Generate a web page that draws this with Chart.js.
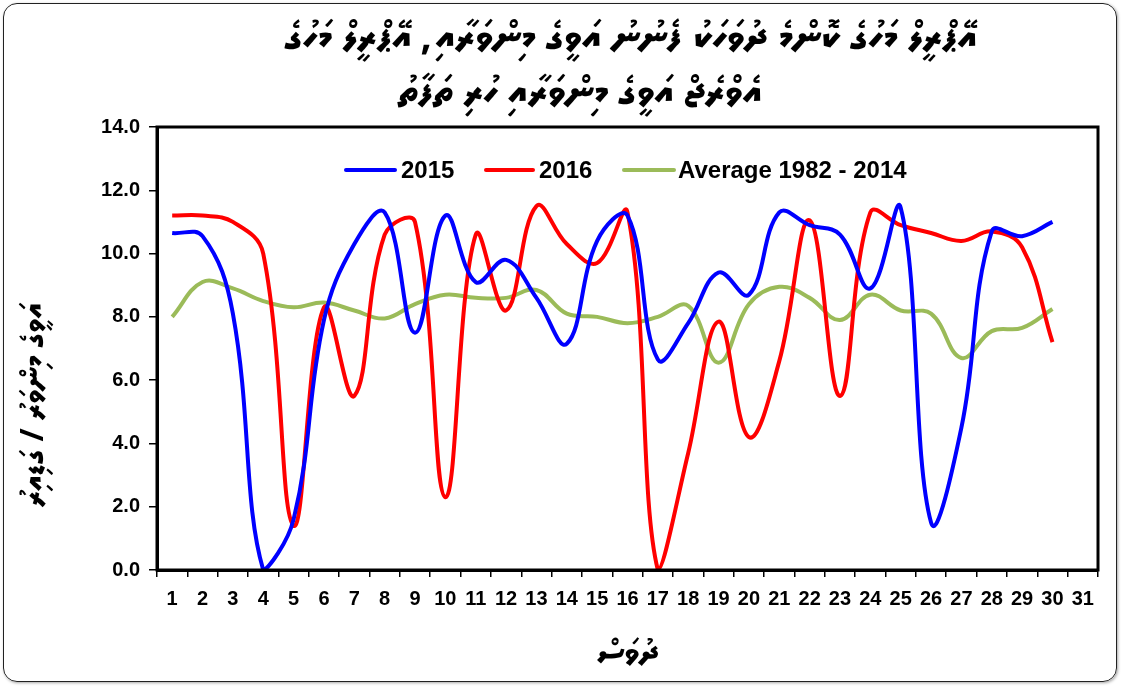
<!DOCTYPE html>
<html>
<head>
<meta charset="utf-8">
<script src="https://cdn.jsdelivr.net/npm/chart.js@4.4.1/dist/chart.umd.min.js"></script>
<style>
  html, body { margin: 0; padding: 0; background: #fff; }
  #wrap { position: relative; width: 1130px; height: 686px; }
  #frame {
    position: absolute; left: 3px; top: 3px; width: 1112px; height: 677px;
    border: 1.5px solid #222; border-radius: 14px;
    box-shadow: 1px 1px 3px rgba(0,0,0,.35); pointer-events: none;
  }
  canvas { position: absolute; left: 0; top: 0; }
</style>
</head>
<body>
<div id="wrap">
  <canvas id="chart" width="1130" height="686"></canvas>
  <div id="frame"></div>
</div>
<script>
// day labels on the x axis
const days = ['1','2','3','4','5','6','7','8','9','10','11','12','13','14','15','16',
  '17','18','19','20','21','22','23','24','25','26','27','28','29','30','31']

// daily values
const series2015 = [10.65, 10.55, 8.1, 0.0, 1.6, 7.9, 10.3, 11.3, 7.5, 11.2, 9.1, 9.8, 8.6, 7.15, 10.4,
  11.2, 6.65, 7.8, 9.4, 8.7, 11.3, 10.9, 10.6, 8.9, 11.45, 1.5, 4.5, 10.7, 10.55, 11.0]
const series2016 = [11.2, 11.2, 11.0, 10.0, 1.4, 8.3, 5.5, 10.6, 11.0, 2.3, 10.6, 8.2, 11.5, 10.3, 9.7,
  11.3, 0.0, 3.7, 7.85, 4.2, 6.6, 11.05, 5.5, 11.3, 10.9, 10.65, 10.4, 10.7, 10.2, 7.2]
const seriesAverage = [8.0, 9.1, 8.9, 8.5, 8.3, 8.45, 8.2, 7.95, 8.4, 8.7, 8.6, 8.6, 8.85, 8.1, 8.0,
  7.8, 8.0, 8.35, 6.55, 8.4, 8.95, 8.6, 7.9, 8.7, 8.2, 8.1, 6.7, 7.55, 7.65, 8.25]

const seriesNames = ['2015', '2016', 'Average 1982 - 2014']
const seriesColors = ['#0000ff', '#ff0000', '#9bbb59']

const titleLines = [
  'އޭޕްރީލް މަހުގެ ކޮންމެ ދުވަހަކު ފެނުނު އަވީގެ މިންވަރާއި، އޭޕްރީލް މަހުގެ',
  'އެވްރެޖް އަވީގެ މިންވަރާއި ހުރި ތަފާތު'
]
const yTitle = 'އަވީގެ މިންވަރު / ގަޑިއިރު'
const xTitle = 'ދުވަސް'

const latin = "'Liberation Sans', Arial, sans-serif"
const thaana = "'MV Boli', Faruma, 'Noto Sans Thaana', 'DejaVu Sans', sans-serif"

// frame, legend inside the plot, titles
const extras = {
  id: 'extras',
  afterDraw(chart) {
    const ctx = chart.ctx
    const a = chart.chartArea
    ctx.save()
    ctx.strokeStyle = '#000'
    ctx.lineWidth = 3
    ctx.strokeRect(a.left, a.top, a.right - a.left, a.bottom - a.top)

    // legend
    const items = [
      { x1: 346, x2: 395, tx: 401 },
      { x1: 486, x2: 533, tx: 539 },
      { x1: 624, x2: 674, tx: 678 }
    ]
    const ly = 170
    ctx.font = 'bold 24px ' + latin
    ctx.textBaseline = 'middle'
    ctx.textAlign = 'left'
    chart.data.datasets.forEach((ds, i) => {
      const it = items[i]
      ctx.strokeStyle = ds.borderColor
      ctx.lineWidth = 4
      ctx.lineCap = 'round'
      ctx.beginPath()
      ctx.moveTo(it.x1, ly)
      ctx.lineTo(it.x2, ly)
      ctx.stroke()
      ctx.fillStyle = '#000'
      ctx.fillText(ds.label, it.tx, ly + 1)
    })

    // title
    ctx.fillStyle = '#000'
    ctx.direction = 'rtl'
    ctx.textAlign = 'center'
    ctx.font = 'bold 40px ' + thaana
    ctx.fillText(titleLines[0], 631, 40)
    ctx.fillText(titleLines[1], 580, 95)

    // y title
    ctx.translate(36, 405)
    ctx.rotate(-Math.PI / 2)
    ctx.font = 'bold 32px ' + thaana
    ctx.fillText(yTitle, 0, 0)
    ctx.restore()
  }
}

const tickFont = { family: latin, size: 20, weight: 'bold' }

new Chart(document.getElementById('chart'), {
  type: 'line',
  data: {
    labels: days,
    datasets: [series2015, series2016, seriesAverage].map((d, i) => ({
      label: seriesNames[i],
      data: d,
      borderColor: seriesColors[i],
      backgroundColor: seriesColors[i],
      borderWidth: 4,
      pointRadius: 0,
      tension: 0.4,
      fill: false
    }))
  },
  options: {
    responsive: false,
    animation: false,
    layout: { padding: { top: 127, right: 32, left: 0, bottom: 0 } },
    plugins: {
      legend: { display: false },
      tooltip: { enabled: false }
    },
    scales: {
      x: {
        offset: true,
        grid: { offset: true, drawOnChartArea: false, tickLength: 7, color: '#000', lineWidth: 1.5 },
        border: { display: true, color: '#000', width: 3 },
        ticks: { color: '#000', font: tickFont, padding: 10, maxRotation: 0, autoSkip: false },
        title: {
          display: true, text: xTitle, color: '#000',
          font: { family: thaana, size: 34, weight: 'bold' },
          padding: { top: 0, bottom: 10 }
        },
        afterFit(s) { s.height = 116 }
      },
      y: {
        min: 0,
        max: 14,
        grid: { drawOnChartArea: false, tickLength: 8, color: '#000', lineWidth: 1.5 },
        border: { display: true, color: '#000', width: 3 },
        ticks: {
          stepSize: 2, color: '#000', font: tickFont, padding: 9,
          callback: v => v.toFixed(1)
        },
        afterFit(s) { s.width = 157 }
      }
    }
  },
  plugins: [extras]
})
</script>
</body>
</html>
